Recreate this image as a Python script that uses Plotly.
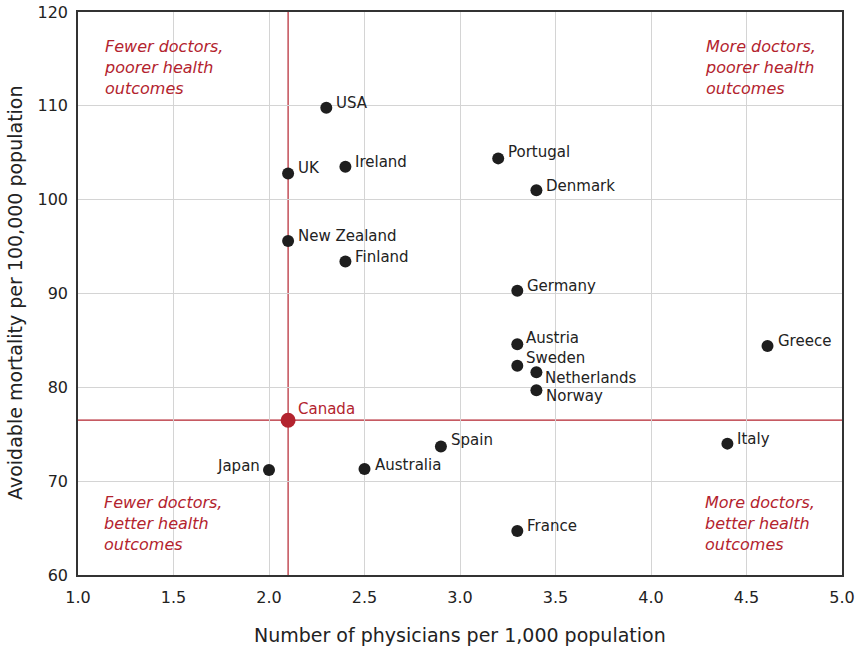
import plotly.graph_objects as go

countries = ["USA", "UK", "Ireland", "Portugal", "Denmark", "New Zealand", "Finland",
             "Germany", "Austria", "Sweden", "Netherlands", "Norway", "Greece",
             "Spain", "Italy", "Japan", "Australia", "France"]
physicians = [2.3, 2.1, 2.4, 3.2, 3.4, 2.1, 2.4, 3.3, 3.3, 3.3, 3.4, 3.4, 4.61,
              2.9, 4.4, 2.0, 2.5, 3.3]
mortality = [109.8, 102.8, 103.5, 104.4, 101.0, 95.6, 93.4, 90.3, 84.6, 82.3, 81.6,
             79.7, 84.4, 73.7, 74.0, 71.2, 71.3, 64.7]

canada_physicians = 2.1
canada_mortality = 76.5

x_ticks = [1.0, 1.5, 2.0, 2.5, 3.0, 3.5, 4.0, 4.5, 5.0]
y_ticks = [60, 70, 80, 90, 100, 110, 120]

# label offsets in pixels (xshift, yshift)
label_offsets = {
    "USA": (8, 5), "UK": (8, 5), "Ireland": (8, 5), "Portugal": (8, 6),
    "Denmark": (8, 4), "New Zealand": (8, 5), "Finland": (8, 5),
    "Germany": (8, 5), "Austria": (7, 6), "Sweden": (7, 8),
    "Netherlands": (7, -6), "Norway": (8, -6), "Greece": (8, 5),
    "Spain": (8, 6), "Italy": (8, 5), "Japan": (-7, 4), "Australia": (8, 4),
    "France": (8, 5),
}

RED = "#b3232e"
FONT = "DejaVu Sans"
TXT = "#222222"

fig = go.Figure()

fig.add_trace(go.Scatter(x=physicians, y=mortality, mode="markers",
                         marker=dict(color="#1e1e1e", size=12),
                         hoverinfo="text", text=countries, showlegend=False))
fig.add_trace(go.Scatter(x=[canada_physicians], y=[canada_mortality], mode="markers",
                         marker=dict(color=RED, size=15),
                         showlegend=False))

fig.add_vline(x=canada_physicians, line=dict(color=RED, width=1.2), layer="below")
fig.add_hline(y=canada_mortality, line=dict(color=RED, width=1.2), layer="below")

for c, xv, yv in zip(countries, physicians, mortality):
    dx, dy = label_offsets[c]
    fig.add_annotation(x=xv, y=yv, text=c, showarrow=False,
                       xanchor="left" if dx > 0 else "right", yanchor="middle",
                       xshift=dx, yshift=dy,
                       font=dict(family=FONT, size=15, color=TXT))

fig.add_annotation(x=canada_physicians, y=canada_mortality, text="Canada", showarrow=False,
                   xanchor="left", yanchor="middle", xshift=8, yshift=11,
                   font=dict(family=FONT, size=15, color=RED))

quad = [
    ("Fewer doctors,<br>poorer health<br>outcomes", 0.031, 0.959, "top"),
    ("More doctors,<br>poorer health<br>outcomes", 0.818, 0.959, "top"),
    ("Fewer doctors,<br>better health<br>outcomes", 0.031, 0.033, "bottom"),
    ("More doctors,<br>better health<br>outcomes", 0.818, 0.033, "bottom"),
]
for t, xp, yp, ya in quad:
    fig.add_annotation(x=xp, y=yp, xref="paper", yref="paper", text="<i>" + t + "</i>",
                       showarrow=False, xanchor="left", yanchor=ya, align="left",
                       font=dict(family=FONT, size=16, color=RED))

# axis titles
fig.add_annotation(x=0.5, y=-0.1066, xref="paper", yref="paper",
                   text="Number of physicians per 1,000 population", showarrow=False,
                   xanchor="center", yanchor="middle",
                   font=dict(family=FONT, size=19, color=TXT))
fig.add_annotation(x=-0.0825, y=0.501, xref="paper", yref="paper",
                   text="Avoidable mortality per 100,000 population", showarrow=False,
                   textangle=-90, xanchor="center", yanchor="middle",
                   font=dict(family=FONT, size=19, color=TXT))

axis_common = dict(showgrid=True, gridcolor="#d4d4d4", gridwidth=1,
                   showline=True, linecolor="#333333", linewidth=1.5, mirror=True,
                   ticks="", zeroline=False, automargin=False,
                   tickfont=dict(family=FONT, size=16, color=TXT))

fig.update_xaxes(range=[1.0, 5.0], tickvals=x_ticks,
                 ticktext=[f"{v:.1f}" for v in x_ticks],
                 ticklabelstandoff=7, **axis_common)
fig.update_yaxes(range=[60, 120], tickvals=y_ticks,
                 ticklabelstandoff=5, **axis_common)

fig.update_layout(width=856, height=649,
                  margin=dict(l=78, r=14, t=12, b=74),
                  plot_bgcolor="white", paper_bgcolor="white",
                  font=dict(family=FONT, color=TXT))

fig.write_html("out.html", config={"displayModeBar": False},
               post_script="document.body.style.margin='0';document.body.style.overflow='hidden';")
